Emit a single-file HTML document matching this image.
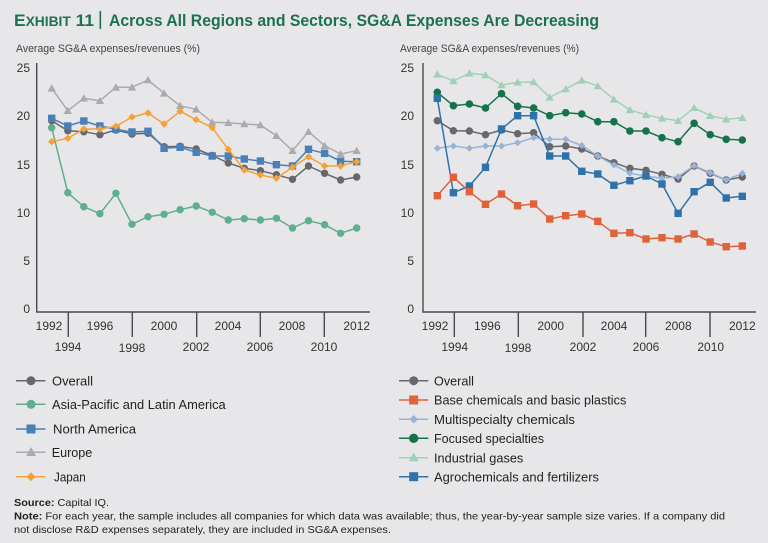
<!DOCTYPE html>
<html><head><meta charset="utf-8"><style>
html,body{margin:0;padding:0;background:#e7e7e9;}
svg{display:block;font-family:"Liberation Sans",sans-serif;}
</style></head><body>
<svg width="768" height="543" viewBox="0 0 768 543" xmlns="http://www.w3.org/2000/svg">
<rect width="768" height="543" fill="#e7e7e9"/>
<defs>
<marker id="mOv" markerWidth="10" markerHeight="10" refX="5" refY="5" markerUnits="userSpaceOnUse"><circle cx="5" cy="5" r="3.7" fill="#67686b"/></marker>
<marker id="mAs" markerWidth="10" markerHeight="10" refX="5" refY="5" markerUnits="userSpaceOnUse"><circle cx="5" cy="5" r="3.7" fill="#5fae8d"/></marker>
<marker id="mNA" markerWidth="10" markerHeight="10" refX="5" refY="5" markerUnits="userSpaceOnUse"><rect x="1.3" y="1.3" width="7.4" height="7.4" fill="#4a7fb8"/></marker>
<marker id="mEu" markerWidth="10" markerHeight="10" refX="5" refY="5" markerUnits="userSpaceOnUse"><polygon points="5,1 9.2,8.3 0.8,8.3" fill="#ababad"/></marker>
<marker id="mJp" markerWidth="10" markerHeight="10" refX="5" refY="5" markerUnits="userSpaceOnUse"><polygon points="5,1.3 8.7,5 5,8.7 1.3,5" fill="#f4a13a"/></marker>
<marker id="mBa" markerWidth="10" markerHeight="10" refX="5" refY="5" markerUnits="userSpaceOnUse"><rect x="1.3" y="1.3" width="7.4" height="7.4" fill="#e0623b"/></marker>
<marker id="mMu" markerWidth="10" markerHeight="10" refX="5" refY="5" markerUnits="userSpaceOnUse"><polygon points="5,1.5 8.5,5 5,8.5 1.5,5" fill="#98b3d7"/></marker>
<marker id="mFo" markerWidth="10" markerHeight="10" refX="5" refY="5" markerUnits="userSpaceOnUse"><circle cx="5" cy="5" r="3.8" fill="#157349"/></marker>
<marker id="mIn" markerWidth="10" markerHeight="10" refX="5" refY="5" markerUnits="userSpaceOnUse"><polygon points="5,1 9.2,8.3 0.8,8.3" fill="#a2d0b7"/></marker>
<marker id="mAg" markerWidth="10" markerHeight="10" refX="5" refY="5" markerUnits="userSpaceOnUse"><rect x="1.3" y="1.3" width="7.4" height="7.4" fill="#2f72aa"/></marker>
</defs>

<!-- Title -->
<text x="14" y="26" font-size="17" font-weight="bold" fill="#1d7152" textLength="80" lengthAdjust="spacingAndGlyphs">E<tspan font-size="13.5">XHIBIT</tspan> 11</text>
<rect x="99.5" y="11" width="1.6" height="18" fill="#1d7152"/>
<text x="109" y="26" font-size="17" font-weight="bold" fill="#1d7152" textLength="490" lengthAdjust="spacingAndGlyphs">Across All Regions and Sectors, SG&amp;A Expenses Are Decreasing</text>

<!-- Subtitles -->
<text x="16" y="52" font-size="11" fill="#444" textLength="184" lengthAdjust="spacingAndGlyphs">Average SG&amp;A expenses/revenues (%)</text>
<text x="400" y="52" font-size="11" fill="#444" textLength="179" lengthAdjust="spacingAndGlyphs">Average SG&amp;A expenses/revenues (%)</text>

<!-- Left axes -->
<g fill="#333" font-size="12" text-anchor="end">
<text x="30" y="72">25</text><text x="30" y="120">20</text><text x="30" y="169">15</text><text x="30" y="217">10</text><text x="30" y="265">5</text><text x="30" y="313">0</text>
<text x="414" y="72">25</text><text x="414" y="120">20</text><text x="414" y="169">15</text><text x="414" y="217">10</text><text x="414" y="265">5</text><text x="414" y="313">0</text>
</g>
<g stroke="#4a4a4c" stroke-width="1.4" fill="none">
<path d="M36.7 63 V312 H370"/>
<path d="M68.3 312 V337 M132.3 312 V337 M196.7 312 V337 M260.3 312 V337 M324.3 312 V337"/>
<path d="M423 63 V312 H756"/>
<path d="M454.3 312 V337 M518.3 312 V337 M583 312 V337 M645.7 312 V337 M710 312 V337"/>
</g>
<g fill="#333" font-size="12" text-anchor="middle">
<text x="49" y="330">1992</text><text x="100" y="330">1996</text><text x="164" y="330">2000</text><text x="228" y="330">2004</text><text x="292" y="330">2008</text><text x="356.7" y="330">2012</text>
<text x="68" y="351">1994</text><text x="132" y="352">1998</text><text x="196" y="351">2002</text><text x="260" y="351">2006</text><text x="324" y="351">2010</text>
<text x="435" y="330">1992</text><text x="487.3" y="330">1996</text><text x="550.7" y="330">2000</text><text x="614" y="330">2004</text><text x="678.3" y="330">2008</text><text x="742.3" y="330">2012</text>
<text x="454.7" y="351">1994</text><text x="518" y="352">1998</text><text x="583" y="351">2002</text><text x="646" y="351">2006</text><text x="710.7" y="351">2010</text>
</g>

<!-- Left series -->
<g fill="none" stroke-width="1.5" stroke-linejoin="round">
<polyline stroke="#ababad" marker-start="url(#mEu)" marker-mid="url(#mEu)" marker-end="url(#mEu)" points="51.7,88.3 67.8,110.7 83.8,98.3 99.9,100.7 115.9,87.3 132,87.3 148,80 164.1,93.3 180.1,105.7 196.2,109.3 212.2,122.3 228.3,122.7 244.3,124 260.4,125 276.4,135.7 292.5,150.7 308.5,131.7 324.6,145.7 340.6,154 356.7,150.7"/>
<polyline stroke="#5fae8d" marker-start="url(#mAs)" marker-mid="url(#mAs)" marker-end="url(#mAs)" points="51.7,127.7 67.8,192.7 83.8,206.7 99.9,213.7 115.9,193.3 132,224.3 148,216.7 164.1,214.3 180.1,209.7 196.2,206 212.2,212.3 228.3,220 244.3,218.7 260.4,220 276.4,218.3 292.5,228 308.5,220.7 324.6,224.7 340.6,233.3 356.7,228"/>
<polyline stroke="#67686b" marker-start="url(#mOv)" marker-mid="url(#mOv)" marker-end="url(#mOv)" points="51.7,120.7 67.8,130.7 83.8,131.7 99.9,134.7 115.9,130 132,134 148,133.3 164.1,146.7 180.1,146.3 196.2,149 212.2,155.5 228.3,163 244.3,168.3 260.4,170.7 276.4,174.7 292.5,179.3 308.5,166 324.6,173.3 340.6,180 356.7,177"/>
<polyline stroke="#4a7fb8" marker-start="url(#mNA)" marker-mid="url(#mNA)" marker-end="url(#mNA)" points="51.7,118.3 67.8,126 83.8,121 99.9,126 115.9,129.3 132,132 148,131.3 164.1,148.3 180.1,147.3 196.2,152.3 212.2,156 228.3,156 244.3,159 260.4,161 276.4,164.7 292.5,166 308.5,149.3 324.6,153.3 340.6,161.3 356.7,161.7"/>
<polyline stroke="#f4a13a" marker-start="url(#mJp)" marker-mid="url(#mJp)" marker-end="url(#mJp)" points="51.7,141.7 67.8,138.3 83.8,129 99.9,129 115.9,126.3 132,117 148,113 164.1,124 180.1,111.3 196.2,119.7 212.2,127.7 228.3,149.3 244.3,170 260.4,175 276.4,178.3 292.5,167.3 308.5,156.7 324.6,166 340.6,166 356.7,161.7"/>
</g>

<!-- Right series -->
<g fill="none" stroke-width="1.5" stroke-linejoin="round">
<polyline stroke="#a2d0b7" marker-start="url(#mIn)" marker-mid="url(#mIn)" marker-end="url(#mIn)" points="437.3,74.3 453.4,81 469.4,73.3 485.5,75 501.5,85 517.6,82.3 533.6,82 549.7,97.3 565.7,89 581.8,80.3 597.8,86 613.9,99.3 629.9,110 646,114.7 662,118.3 678.1,120.7 694.1,107.7 710.2,115.7 726.2,119.3 742.3,117.7"/>
<polyline stroke="#157349" marker-start="url(#mFo)" marker-mid="url(#mFo)" marker-end="url(#mFo)" points="437.3,92.3 453.4,105.7 469.4,104 485.5,108 501.5,93.7 517.6,106.3 533.6,108 549.7,115.7 565.7,112.7 581.8,114 597.8,121.7 613.9,121.7 629.9,131 646,131 662,137.7 678.1,141.7 694.1,123.3 710.2,134.7 726.2,139.3 742.3,140"/>
<polyline stroke="#67686b" marker-start="url(#mOv)" marker-mid="url(#mOv)" marker-end="url(#mOv)" points="437.3,120.7 453.4,130.7 469.4,131 485.5,134.7 501.5,130 517.6,133.7 533.6,132.7 549.7,146.7 565.7,146 581.8,149 597.8,156 613.9,162.7 629.9,168.3 646,170.3 662,174.3 678.1,179 694.1,166 710.2,173.3 726.2,180 742.3,177"/>
<polyline stroke="#98b3d7" marker-start="url(#mMu)" marker-mid="url(#mMu)" marker-end="url(#mMu)" points="437.3,148.3 453.4,146 469.4,148.3 485.5,146 501.5,146 517.6,142.7 533.6,137.7 549.7,139.3 565.7,139.3 581.8,145.5 597.8,156 613.9,165 629.9,173.3 646,176 662,178.3 678.1,176.7 694.1,165.7 710.2,172.7 726.2,180 742.3,173.3"/>
<polyline stroke="#2f72aa" marker-start="url(#mAg)" marker-mid="url(#mAg)" marker-end="url(#mAg)" points="437.3,98.3 453.4,192.7 469.4,186 485.5,167.3 501.5,129 517.6,115.7 533.6,115.7 549.7,156 565.7,156 581.8,171.3 597.8,174 613.9,185.3 629.9,180.7 646,176 662,184 678.1,213.3 694.1,191.7 710.2,182.3 726.2,198 742.3,196.3"/>
<polyline stroke="#e0623b" marker-start="url(#mBa)" marker-mid="url(#mBa)" marker-end="url(#mBa)" points="437.3,195.7 453.4,177.3 469.4,191.7 485.5,204.3 501.5,194 517.6,205.7 533.6,204 549.7,219 565.7,215.7 581.8,214 597.8,221.3 613.9,233.3 629.9,232.7 646,239 662,237.7 678.1,239 694.1,234 710.2,242 726.2,246.7 742.3,246"/>
</g>

<!-- Left legend -->
<g stroke-width="1.5">
<line x1="16" y1="380.7" x2="45.5" y2="380.7" stroke="#67686b"/><circle cx="31" cy="380.7" r="4.5" fill="#67686b"/>
<line x1="16" y1="404.3" x2="45.5" y2="404.3" stroke="#5fae8d"/><circle cx="31" cy="404.3" r="4.5" fill="#5fae8d"/>
<line x1="16" y1="429" x2="45.5" y2="429" stroke="#4a7fb8"/><rect x="26.5" y="424.5" width="9" height="9" fill="#4a7fb8"/>
<line x1="16" y1="452.3" x2="45.5" y2="452.3" stroke="#ababad"/><polygon points="31,447 36,456 26,456" fill="#ababad"/>
<line x1="16" y1="476.7" x2="45.5" y2="476.7" stroke="#f4a13a"/><polygon points="31,472.2 35.5,476.7 31,481.2 26.5,476.7" fill="#f4a13a"/>
</g>
<g font-size="13" fill="#222">
<text x="52" y="385.5" textLength="41" lengthAdjust="spacingAndGlyphs">Overall</text>
<text x="52" y="409" textLength="173.7" lengthAdjust="spacingAndGlyphs">Asia-Pacific and Latin America</text>
<text x="53" y="433.7" textLength="83" lengthAdjust="spacingAndGlyphs">North America</text>
<text x="51.7" y="457" textLength="40.6" lengthAdjust="spacingAndGlyphs">Europe</text>
<text x="54" y="481.4" textLength="31.7" lengthAdjust="spacingAndGlyphs">Japan</text>
</g>

<!-- Right legend -->
<g stroke-width="1.5">
<line x1="399" y1="380.7" x2="428.3" y2="380.7" stroke="#67686b"/><circle cx="413.7" cy="380.7" r="4.5" fill="#67686b"/>
<line x1="399" y1="400" x2="428.3" y2="400" stroke="#e0623b"/><rect x="409.2" y="395.5" width="9" height="9" fill="#e0623b"/>
<line x1="399" y1="419.3" x2="428.3" y2="419.3" stroke="#98b3d7"/><polygon points="413.7,415 418,419.3 413.7,423.6 409.4,419.3" fill="#98b3d7"/>
<line x1="399" y1="438.3" x2="428.3" y2="438.3" stroke="#157349"/><circle cx="413.7" cy="438.3" r="4.7" fill="#157349"/>
<line x1="399" y1="457.7" x2="428.3" y2="457.7" stroke="#a2d0b7"/><polygon points="413.7,452.5 418.7,461.3 408.7,461.3" fill="#a2d0b7"/>
<line x1="399" y1="476.7" x2="428.3" y2="476.7" stroke="#2f72aa"/><rect x="409.2" y="472.2" width="9" height="9" fill="#2f72aa"/>
</g>
<g font-size="13" fill="#222">
<text x="434" y="385.3" textLength="40" lengthAdjust="spacingAndGlyphs">Overall</text>
<text x="434" y="404.6" textLength="192.3" lengthAdjust="spacingAndGlyphs">Base chemicals and basic plastics</text>
<text x="434" y="423.9" textLength="141" lengthAdjust="spacingAndGlyphs">Multispecialty chemicals</text>
<text x="434" y="442.9" textLength="110" lengthAdjust="spacingAndGlyphs">Focused specialties</text>
<text x="434" y="462.3" textLength="89.3" lengthAdjust="spacingAndGlyphs">Industrial gases</text>
<text x="434" y="481.3" textLength="165" lengthAdjust="spacingAndGlyphs">Agrochemicals and fertilizers</text>
</g>

<!-- Footer -->
<g font-size="10.5" fill="#222">
<text x="14" y="506" textLength="95" lengthAdjust="spacingAndGlyphs"><tspan font-weight="bold">Source:</tspan> Capital IQ.</text>
<text x="14" y="519.5" textLength="711" lengthAdjust="spacingAndGlyphs"><tspan font-weight="bold">Note:</tspan> For each year, the sample includes all companies for which data was available; thus, the year-by-year sample size varies. If a company did</text>
<text x="14" y="533" textLength="377" lengthAdjust="spacingAndGlyphs">not disclose R&amp;D expenses separately, they are included in SG&amp;A expenses.</text>
</g>
</svg>
</body></html>
